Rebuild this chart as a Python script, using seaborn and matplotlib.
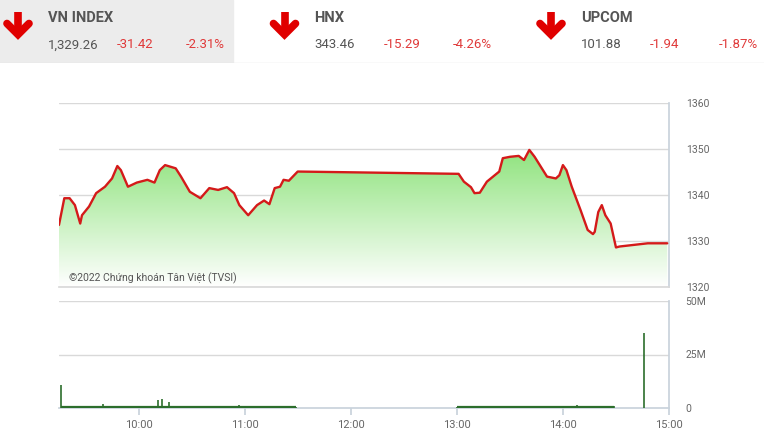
import pandas as pd
import numpy as np
import matplotlib
matplotlib.use("Agg")
import matplotlib.pyplot as plt
import matplotlib.patches as mpatches
import matplotlib.lines as mlines
import seaborn as sns

# header quotes
INDEX_NAMES = ["VN INDEX", "HNX", "UPCOM"]
INDEX_VALUES = ["1,329.26", "343.46", "101.88"]
INDEX_CHANGES = ["-31.42", "-15.29", "-1.94"]
INDEX_PCTS = ["-2.31%", "-4.26%", "-1.87%"]

# VN-Index intraday (time, points)
PRICE_TIME = ["09:15", "09:18", "09:21", "09:24", "09:27", "09:28", "09:32", "09:36",
              "09:41", "09:45", "09:48", "09:50", "09:54", "09:59", "10:05", "10:09",
              "10:12", "10:15", "10:21", "10:24", "10:29", "10:35", "10:40", "10:45",
              "10:50", "10:54", "10:57", "11:02", "11:07", "11:11", "11:14", "11:17",
              "11:20", "11:22", "11:25", "11:30", "13:01", "13:04", "13:08", "13:10",
              "13:13", "13:17", "13:24", "13:26", "13:30", "13:35", "13:38", "13:41",
              "13:44", "13:51", "13:56", "13:58", "14:00", "14:02", "14:05", "14:10",
              "14:14", "14:17", "14:18", "14:20", "14:22", "14:24", "14:27", "14:30",
              "14:32", "14:48", "14:59"]
PRICE = [1333.5, 1339.3, 1339.3, 1337.8, 1333.8, 1335.6, 1337.5, 1340.4,
         1341.8, 1343.6, 1346.3, 1345.4, 1341.8, 1342.7, 1343.3, 1342.7,
         1345.4, 1346.5, 1345.8, 1344.0, 1340.7, 1339.3, 1341.5, 1341.1,
         1341.7, 1340.4, 1337.8, 1335.6, 1337.8, 1338.8, 1338.0, 1341.5,
         1341.8, 1343.3, 1343.1, 1345.1, 1344.6, 1342.9, 1341.7, 1340.4,
         1340.5, 1342.9, 1345.1, 1348.0, 1348.3, 1348.5, 1347.6, 1349.8,
         1348.3, 1344.0, 1343.6, 1344.3, 1346.5, 1345.4, 1341.8, 1336.7,
         1332.4, 1331.5, 1332.0, 1336.3, 1337.8, 1335.6, 1333.8, 1328.6,
         1328.8, 1329.5, 1329.5]

# matched volume (millions of shares)
VOL_TIME = ["09:16", "09:18", "09:21", "09:25", "09:28", "09:31", "09:34", "09:37",
            "09:40", "09:43", "09:46", "09:49", "09:51", "09:53", "09:55", "09:57",
            "10:00", "10:03", "10:06", "10:08", "10:11", "10:13", "10:15", "10:17",
            "10:20", "10:24", "10:28", "10:32", "10:36", "10:40", "10:44", "10:48",
            "10:52", "10:55", "10:57", "10:59", "11:02", "11:06", "11:10", "11:14",
            "11:18", "11:22", "11:26", "11:29",
            "13:00", "13:03", "13:07", "13:11", "13:15", "13:19", "13:23", "13:27",
            "13:31", "13:35", "13:39", "13:43", "13:47", "13:51", "13:55", "13:58",
            "14:01", "14:04", "14:06", "14:08", "14:10", "14:12", "14:15", "14:18",
            "14:21", "14:23", "14:25", "14:27", "14:29", "14:46"]
VOLUME = [10.7, 0.5, 0.5, 0.3, 0.4, 0.3, 0.3, 0.3,
          1.7, 0.3, 0.3, 0.4, 0.8, 0.7, 0.3, 0.7,
          0.3, 0.3, 0.3, 0.4, 3.7, 4.2, 0.6, 2.8,
          0.4, 0.3, 0.3, 0.3, 0.3, 0.3, 0.3, 0.3,
          0.3, 0.5, 1.4, 0.8, 0.4, 0.3, 0.3, 0.3,
          0.3, 0.3, 0.3, 0.3,
          0.6, 0.4, 0.3, 0.3, 0.3, 0.3, 0.4, 0.3,
          0.3, 0.3, 0.3, 0.3, 0.3, 0.3, 0.4, 0.5,
          0.6, 0.8, 1.0, 1.2, 0.9, 0.7, 0.6, 0.5,
          0.6, 0.8, 1.0, 1.1, 1.0, 35.2]

X_TICKS = ["10:00", "11:00", "12:00", "13:00", "14:00", "15:00"]
PRICE_TICKS = [1320, 1330, 1340, 1350, 1360]
VOL_TICKS = [0, 25, 50]
VOL_TICKLABELS = ["0", "25M", "50M"]


def to_min(t):
    h, m = t.split(":")
    return int(h) * 60 + int(m)


sns.set_theme(style="white")
plt.rcParams['font.family'] = ['Roboto', 'DejaVu Sans']

df_price = pd.DataFrame({'t': [to_min(t) for t in PRICE_TIME], 'price': PRICE})
df_vol = pd.DataFrame({'t': [to_min(t) for t in VOL_TIME], 'vol': VOLUME})

W, H = 764, 442
fig = plt.figure(figsize=(W / 100, H / 100), dpi=100)

GRID = '#d9d9d9'
EDGE = '#c9d3dc'
LABEL = '#666666'
RED = '#d41a1a'
VOL_GREEN = '#2c6e2c'
x0, x1 = to_min("09:15"), to_min("15:00")

#________________________________
# header
#________________________________
hdr = fig.add_axes([0, 1 - 63 / H, 1, 63 / H])
hdr.set_xlim(0, W)
hdr.set_ylim(63, 0)
hdr.axis('off')
hdr.add_patch(mpatches.Rectangle((0, 0), 233, 63, color='#ececec', zorder=0))
hdr.add_line(mlines.Line2D([0, W], [62.5, 62.5], color='#e2e2e2', lw=1))

for i, name in enumerate(INDEX_NAMES):
    ox = i * 266.5
    # red down arrow (stem + chevron)
    hdr.plot([ox + 18, ox + 18], [12, 33], color='#e00000', lw=5.5, solid_capstyle='butt')
    hdr.plot([ox + 7, ox + 18, ox + 29], [23.5, 34.5, 23.5], color='#e00000', lw=5.5,
             solid_capstyle='round', solid_joinstyle='miter')
    hdr.text(ox + 48, 18, name, fontsize=10.5, fontweight='bold', color='#555555', va='center')
    hdr.text(ox + 48, 45, INDEX_VALUES[i], fontsize=9.5, color='#555555', va='center')
    hdr.text(ox + 117, 45, INDEX_CHANGES[i], fontsize=9.5, color='#e03a3a', va='center')
    hdr.text(ox + 186, 45, INDEX_PCTS[i], fontsize=9.5, color='#e03a3a', va='center')

#________________________________
# price panel
#________________________________
ax = fig.add_axes([59 / W, 1 - 287 / H, 610 / W, 184 / H])
ax.set_xlim(x0, x1)
ax.set_ylim(1320, 1360)

# gradient fill under the line
fill = ax.fill_between(df_price['t'], df_price['price'], 1320, color='none', lw=0)
grad = np.zeros((256, 1, 4))
top_rgb = np.array([0.56, 0.89, 0.49])
frac = np.linspace(0, 1, 256)[:, None]   # 0 bottom -> 1 top
grad[:, 0, :3] = (1 - frac) * 1.0 + frac * top_rgb
grad[:, 0, 3] = 1
img = ax.imshow(grad, extent=[x0, x1, 1320, 1350], origin='lower', aspect='auto', zorder=1)
img.set_clip_path(fill.get_paths()[0], transform=ax.transData)
ax.set_xlim(x0, x1)
ax.set_ylim(1320, 1360)

sns.lineplot(data=df_price, x='t', y='price', ax=ax, color=RED, linewidth=1.7, zorder=3)

for v in PRICE_TICKS[1:]:
    ax.axhline(v, color=GRID, lw=1, zorder=0)

ax.yaxis.tick_right()
ax.set_yticks(PRICE_TICKS)
ax.set_yticklabels([str(v) for v in PRICE_TICKS], fontsize=7.5, color=LABEL)
ax.tick_params(axis='y', length=0, pad=12)
ax.set_xticks([])
ax.set_xlabel('')
ax.set_ylabel('')
for side in ['left', 'top']:
    ax.spines[side].set_visible(False)
ax.spines['right'].set_color(EDGE)
ax.spines['bottom'].set_color(GRID)

ax.text(0.017, 0.05, "©2022 Chứng khoán Tân Việt (TVSI)", transform=ax.transAxes,
        fontsize=7.5, color='#555555', va='center', zorder=4)

#________________________________
# volume panel
#________________________________
axv = fig.add_axes([59 / W, 1 - 408 / H, 610 / W, 107 / H])
axv.vlines(df_vol['t'], 0, df_vol['vol'], color=VOL_GREEN, lw=1.2, zorder=3)

# continuous strip of small trades during each session
morning = df_vol[df_vol['t'] < to_min("12:00")]
afternoon = df_vol[(df_vol['t'] > to_min("12:00")) & (df_vol['t'] < to_min("14:45"))]
for sess in [morning, afternoon]:
    axv.hlines(0.4, sess['t'].min(), sess['t'].max(), color=VOL_GREEN, lw=1.6, zorder=3)

axv.set_xlim(x0, x1)
axv.set_ylim(0, 50)
axv.axhline(25, color=GRID, lw=1, zorder=0)
axv.axhline(50, color=GRID, lw=1, zorder=0)

axv.yaxis.tick_right()
axv.set_yticks(VOL_TICKS)
axv.set_yticklabels(VOL_TICKLABELS, fontsize=7.5, color=LABEL)
axv.tick_params(axis='y', length=0, pad=12)
axv.set_xticks([to_min(t) for t in X_TICKS])
axv.set_xticklabels(X_TICKS, fontsize=8, color=LABEL)
axv.tick_params(axis='x', length=5, color=EDGE, pad=4, bottom=True)
for side in ['left', 'top']:
    axv.spines[side].set_visible(False)
axv.spines['right'].set_color(EDGE)
axv.spines['bottom'].set_color(EDGE)

plt.savefig('out.png', dpi=100)
plt.close()
